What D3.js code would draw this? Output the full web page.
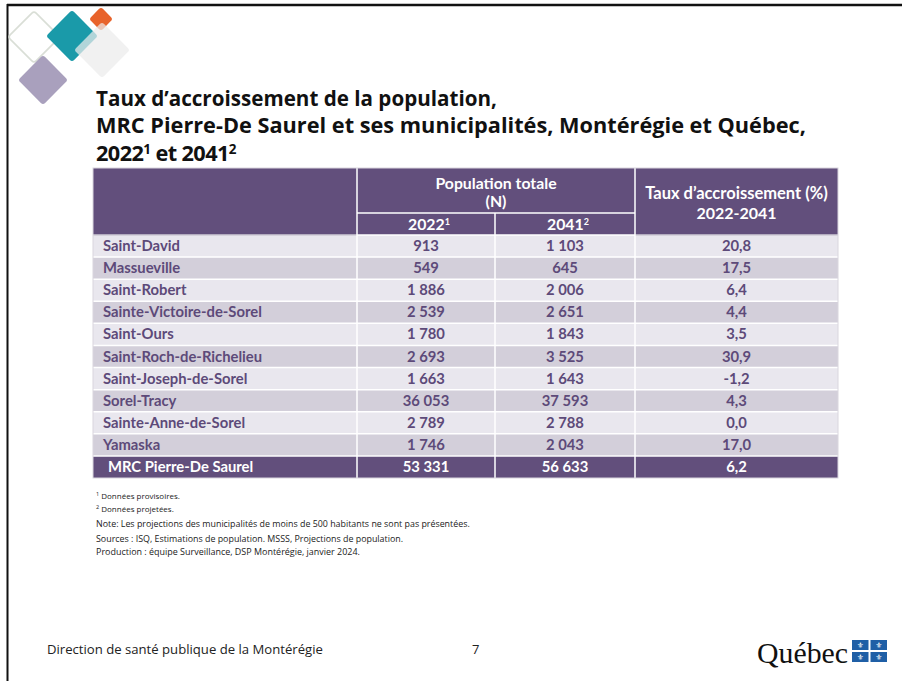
<!DOCTYPE html>
<html><head><meta charset="utf-8">
<script src="https://cdn.jsdelivr.net/npm/d3@7"></script>
<style>
html,body{margin:0;padding:0;background:#fff;}
svg{display:block;}
</style></head>
<body>
<svg id="c" width="902" height="681"></svg>
<script>
// ---- data ----
const municipalities = ["Saint-David","Massueville","Saint-Robert","Sainte-Victoire-de-Sorel","Saint-Ours","Saint-Roch-de-Richelieu","Saint-Joseph-de-Sorel","Sorel-Tracy","Sainte-Anne-de-Sorel","Yamaska","MRC Pierre-De Saurel"];
const pop2022 = [913,549,1886,2539,1780,2693,1663,36053,2789,1746,53331];
const pop2041 = [1103,645,2006,2651,1843,3525,1643,37593,2788,2043,56633];
const growthRate = [20.8,17.5,6.4,4.4,3.5,30.9,-1.2,4.3,0.0,17.0,6.2];
const columns = ["name","p2022","p2041","rate"];
const titleLines = ["Taux d’accroissement de la population,","MRC Pierre-De Saurel et ses municipalités, Montérégie et Québec,"];
const footnotes = ["Note: Les projections des municipalités de moins de 500 habitants ne sont pas présentées.","Sources : ISQ, Estimations de population. MSSS, Projections de population.","Production : équipe Surveillance, DSP Montérégie, janvier 2024."];

const locale = d3.formatLocale({decimal:",",thousands:"\u00a0",grouping:[3],currency:["","$"],minus:"-"});
const fmtInt = locale.format(",d");
const fmtRate = locale.format(".1f");

const svg = d3.select("#c");
const FONT = "Lato, 'Open Sans', sans-serif";
const PURPLE = "#624f7c", TXT = "#5d4a79";

function fit(sel, w){ // scale font so text fits width w
  const n = sel.node(); const L = n.getComputedTextLength();
  const fs = parseFloat(sel.attr("font-size"));
  sel.attr("font-size", (fs*w/L).toFixed(2));
}

// ---- slide frame ----
svg.append("line").attr("x1",7).attr("x2",902).attr("y1",5).attr("y2",5).attr("stroke","#111").attr("stroke-width",2.5);
svg.append("line").attr("x1",7.5).attr("x2",7.5).attr("y1",4).attr("y2",681).attr("stroke","#111").attr("stroke-width",2);

// ---- logo diamonds ----
const lg = svg.append("g");
function diamond(cx,cy,h,fill,opts={}){
  const s = h*Math.SQRT2;
  const r = lg.append("rect").attr("x",-s/2).attr("y",-s/2).attr("width",s).attr("height",s).attr("rx",3)
    .attr("transform",`translate(${cx},${cy}) rotate(45)`).attr("fill",fill);
  if(opts.stroke) r.attr("stroke",opts.stroke).attr("stroke-width",opts.sw||1.5);
  if(opts.op!=null) r.attr("opacity",opts.op);
  return r;
}
diamond(34,37,26,"none",{stroke:"#d9ded6",sw:1.6});
diamond(43,80,25,"#a9a0bd");
diamond(72,36,26,"#1a9aa9");
diamond(101,19,12,"#e8632b");
diamond(102,50,28,"#ececec",{op:0.72});

// ---- title ----
const tg = svg.append("g").attr("font-family","'Open Sans', sans-serif").attr("font-weight","bold").attr("fill","#111");
const t1 = tg.append("text").attr("x",96).attr("y",106).attr("font-size",21).text(titleLines[0]);
fit(t1,401);
const t2 = tg.append("text").attr("x",96).attr("y",133).attr("font-size",21).text(titleLines[1]);
fit(t2,710);
const fsT = +t2.attr("font-size");
const t3 = tg.append("text").attr("x",96).attr("y",161).attr("font-size",fsT).attr("letter-spacing",-0.6);
t3.append("tspan").text("2022");
t3.append("tspan").attr("font-size",fsT*0.62).attr("dy",-7).text("1");
t3.append("tspan").attr("dy",7).text(" et 2041");
t3.append("tspan").attr("font-size",fsT*0.62).attr("dy",-7).text("2");

// ---- table ----
const tableLeft = 93, tableRight = 838;
const colEdges = [93,357,495,635,838];
const x = d3.scaleOrdinal().domain(columns).range(colEdges.slice(0,4));
const colW = c => colEdges[columns.indexOf(c)+1]-colEdges[columns.indexOf(c)];
const headTop = 168, head1 = 213, headBot = 235, tableBot = 478;
const y = d3.scaleBand().domain(d3.range(municipalities.length)).range([headBot,tableBot]).paddingInner(0);

const tb = svg.append("g").attr("font-family",FONT).attr("font-weight","bold");
tb.append("rect").attr("x",tableLeft).attr("y",headTop).attr("width",tableRight-tableLeft).attr("height",headBot-headTop).attr("fill",PURPLE);

const rows = municipalities.map((m,i)=>({name:m,p2022:pop2022[i],p2041:pop2041[i],rate:growthRate[i],i}));
const last = rows.length-1;
const rg = tb.selectAll("g.row").data(rows).join("g").attr("class","row");
rg.selectAll("rect").data(d=>columns.map(c=>({c,d}))).join("rect")
  .attr("x",e=>x(e.c)).attr("y",e=>y(e.d.i)).attr("width",e=>colW(e.c)).attr("height",y.bandwidth())
  .attr("fill",e=>e.d.i===last?PURPLE:(e.d.i%2===0?"#e9e7ee":"#d3cfda"));

// cell borders (white)
const bl = tb.append("g").attr("stroke","#fff").attr("stroke-width",1.5);
rows.forEach((d,i)=>{ if(i>0) bl.append("line").attr("x1",tableLeft).attr("x2",tableRight).attr("y1",y(i)).attr("y2",y(i)); });
bl.append("line").attr("x1",357).attr("x2",635).attr("y1",headBot).attr("y2",headBot);
bl.append("line").attr("x1",tableLeft).attr("x2",357).attr("y1",headBot).attr("y2",headBot).attr("stroke","#cfcbd6");
bl.append("line").attr("x1",635).attr("x2",tableRight).attr("y1",headBot).attr("y2",headBot).attr("stroke","#cfcbd6");
bl.append("line").attr("x1",357).attr("x2",635).attr("y1",head1).attr("y2",head1);
bl.append("line").attr("x1",x("p2022")).attr("x2",x("p2022")).attr("y1",headTop).attr("y2",tableBot);
bl.append("line").attr("x1",x("p2041")).attr("x2",x("p2041")).attr("y1",head1).attr("y2",tableBot);
bl.append("line").attr("x1",x("rate")).attr("x2",x("rate")).attr("y1",headTop).attr("y2",tableBot);
tb.append("rect").attr("x",tableLeft).attr("y",headTop).attr("width",tableRight-tableLeft).attr("height",tableBot-headTop)
  .attr("fill","none").attr("stroke","#d9d6de").attr("stroke-width",1);

// header text
const hf = 15.8;
const ht = tb.append("g").attr("fill","#fff").attr("font-size",hf).attr("text-anchor","middle");
const cPop = (357+635)/2, cRate = (635+838)/2;
ht.append("text").attr("x",cPop).attr("y",189).text("Population totale");
ht.append("text").attr("x",cPop).attr("y",207).text("(N)");
ht.append("text").attr("x",cRate).attr("y",199).attr("font-size",16.5).text("Taux d’accroissement (%)");
ht.append("text").attr("x",cRate).attr("y",219).attr("font-size",16).text("2022-2041");
[["p2022","2022","1"],["p2041","2041","2"]].forEach(([c,yr,s])=>{
  const t = ht.append("text").attr("x",x(c)+colW(c)/2+3).attr("y",230);
  t.append("tspan").text(yr);
  t.append("tspan").attr("font-size",9).attr("dy",-5).text(s);
});

// row text
const rowFs = 14.8;
rg.append("text").attr("x",d=>d.i===last?108:103).attr("y",d=>y(d.i)+y.bandwidth()/2+5)
  .attr("font-size",rowFs).attr("fill",d=>d.i===last?"#fff":TXT).text(d=>d.name);
["p2022","p2041","rate"].forEach(c=>{
  rg.append("text").attr("x",x(c)+colW(c)/2).attr("y",d=>y(d.i)+y.bandwidth()/2+5)
    .attr("text-anchor","middle").attr("font-size",rowFs).attr("fill",d=>d.i===last?"#fff":TXT)
    .text(d=>c==="rate"?fmtRate(d[c]):fmtInt(d[c]));
});

// ---- footnotes ----
const fg = svg.append("g").attr("font-family","'Open Sans', sans-serif").attr("fill","#222");
const f1 = fg.append("text").attr("x",96).attr("y",499).attr("font-size",8);
f1.append("tspan").attr("font-size",5.5).attr("dy",-3).text("1");
f1.append("tspan").attr("dy",3).text(" Données provisoires.");
const f2 = fg.append("text").attr("x",96).attr("y",512).attr("font-size",8);
f2.append("tspan").attr("font-size",5.5).attr("dy",-3).text("2");
f2.append("tspan").attr("dy",3).text(" Données projetées.");
const fn = [[527,374],[542,308],[555,264]];
footnotes.forEach((s,i)=>{
  const t = fg.append("text").attr("x",96).attr("y",fn[i][0]).attr("font-size",8.5).text(s);
  fit(t,fn[i][1]);
});

// ---- footer ----
const ft = svg.append("text").attr("x",47).attr("y",654).attr("font-family","'Open Sans', sans-serif")
  .attr("font-size",13).attr("fill","#222").text("Direction de santé publique de la Montérégie");
fit(ft,276);
svg.append("text").attr("x",472).attr("y",654).attr("font-family","'Open Sans', sans-serif").attr("font-size",13).attr("fill","#222").text("7");

// Québec logo
const q = svg.append("text").attr("x",757).attr("y",663).attr("font-family","'Liberation Serif', serif")
  .attr("font-size",30).attr("fill","#111").text("Québec");
fit(q,91);
const fl = svg.append("g").attr("transform","translate(852,640)");
fl.append("rect").attr("width",35).attr("height",22).attr("fill","#1f5fa6");
fl.append("rect").attr("x",16.5).attr("width",2).attr("height",22).attr("fill","#fff");
fl.append("rect").attr("y",10).attr("width",35).attr("height",2).attr("fill","#fff");
[[8.25,5],[26.75,5],[8.25,17],[26.75,17]].forEach(([cx,cy])=>{
  fl.append("text").attr("x",cx).attr("y",cy+3).attr("text-anchor","middle").attr("font-family","'DejaVu Sans'")
    .attr("font-size",8).attr("fill","#fff").text("\u269C");
});
</script>
</body></html>
